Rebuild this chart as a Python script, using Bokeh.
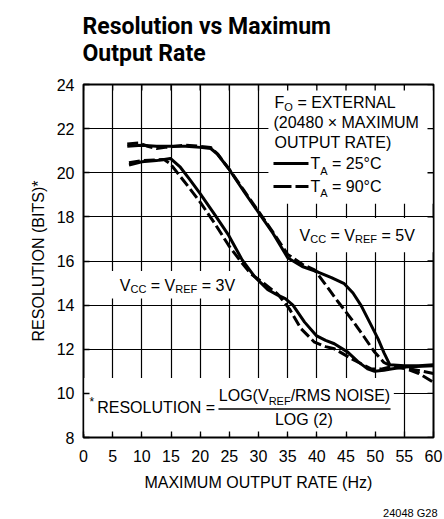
import math
from bokeh.plotting import figure
from bokeh.models import Range1d, FixedTicker, BoxAnnotation, Label, Arrow, Title
from bokeh.embed import file_html
from bokeh.resources import INLINE

FONT = "Liberation Sans"
TITLE_FONT = "Roboto"

# ---------------- data ----------------
x_ticks = [0, 5, 10, 15, 20, 25, 30, 35, 40, 45, 50, 55, 60]
y_ticks = [8, 10, 12, 14, 16, 18, 20, 22, 24]

# VCC = VREF = 5V, TA = 25C (solid)
x_5v_25 = [7.5, 10, 12.5, 15, 17.5, 20, 21.8, 22.9, 24.9, 27.5, 30, 32.5, 35, 37.5, 40.2,
           42.5, 44.7, 46.2, 47.6, 49, 50.5, 51.5, 52.5, 55, 57.5, 60]
y_5v_25 = [21.2, 21.25, 21.2, 21.2, 21.2, 21.15, 21.1, 20.86, 20.18, 19.15, 18.2, 17.25, 16.15,
           15.75, 15.5, 15.25, 14.97, 14.55, 13.98, 13.25, 12.47, 11.85, 11.3, 11.25, 11.25, 11.3]
# VCC = VREF = 5V, TA = 90C (dashed)
x_5v_90 = [7.5, 9.5, 11, 12.5, 14, 17.5, 20, 21.8, 23, 25, 27.5, 30, 32.5, 35, 37.5, 39.6,
           41.3, 43.5, 45.9, 48, 49.9, 51.5, 52.7, 55, 57.5, 60]
y_5v_90 = [21.3, 21.35, 21.2, 21.1, 21.15, 21.25, 21.2, 21.15, 20.85, 20.15, 19.2, 18.25, 17.3,
           16.3, 15.85, 15.6, 15.0, 14.2, 13.38, 12.6, 11.87, 11.4, 11.25, 11.15, 10.9, 10.5]
# VCC = VREF = 3V, TA = 25C (solid)
x_3v_25 = [7.8, 10, 12.5, 14.9, 16.6, 18.2, 20, 22.5, 24.9, 27.2, 29.3, 31.6, 33.3, 34.6, 35.9,
           37.9, 39.9, 41.5, 43.0, 45.3, 47, 48.7, 49.9, 51.5, 52.7, 55, 60]
y_3v_25 = [20.35, 20.5, 20.55, 20.65, 20.25, 19.7, 19.05, 18.1, 17.16, 16.05, 15.3, 14.7, 14.45,
           14.3, 14.0, 13.23, 12.62, 12.4, 12.25, 11.87, 11.45, 11.11, 11.0, 11.05, 11.1, 11.2, 11.25]
# VCC = VREF = 3V, TA = 90C (dashed)
x_3v_90 = [7.8, 10, 12.5, 13.8, 14.9, 16.5, 18, 20, 22.5, 24.9, 26.9, 28.7, 31, 33.3, 35.3,
           37.3, 39.6, 41.5, 43, 46.5, 49.3, 51, 52.7, 56.2, 60]
y_3v_90 = [20.45, 20.55, 20.58, 20.6, 20.4, 19.86, 19.36, 18.67, 17.7, 16.7, 16.0, 15.42, 14.97,
           14.5, 13.83, 12.93, 12.32, 12.12, 12.02, 11.49, 11.11, 11.1, 11.2, 11.1, 10.9]

# ---------------- figure ----------------
p = figure(frame_width=350, frame_height=353,
           min_border_left=83, min_border_right=11, min_border_top=84, min_border_bottom=82,
           x_range=Range1d(0, 60), y_range=Range1d(8, 24),
           output_backend="svg", toolbar_location=None,
           x_axis_label="MAXIMUM OUTPUT RATE (Hz)", y_axis_label="RESOLUTION (BITS)*")
p.background_fill_color = "white"
p.border_fill_color = "white"
p.outline_line_color = "black"
p.outline_line_width = 2

p.xaxis.ticker = FixedTicker(ticks=x_ticks)
p.yaxis.ticker = FixedTicker(ticks=y_ticks)
for ax in (p.xaxis[0], p.yaxis[0]):
    ax.axis_line_color = None
    ax.major_tick_in = 6
    ax.major_tick_out = 0
    ax.major_tick_line_width = 1.3
    ax.major_tick_line_color = "black"
    ax.minor_tick_line_color = None
    ax.major_label_text_font = FONT
    ax.major_label_text_font_size = "16px"
    ax.major_label_text_color = "black"
    ax.axis_label_text_font = FONT
    ax.axis_label_text_font_size = "16px"
    ax.axis_label_text_font_style = "normal"
    ax.axis_label_text_color = "black"
p.xaxis.major_label_standoff = 12
p.xaxis.axis_label_standoff = 9
p.yaxis.major_label_standoff = 9
p.yaxis.axis_label_standoff = 7

p.grid.grid_line_color = "black"
p.grid.grid_line_width = 1.2
p.grid.grid_line_alpha = 1


def make_title(text, pad, **kw):
    try:
        return Title(text=text, padding=pad, **kw)
    except Exception:
        return Title(text=text, **kw)


# title (two lines), lifted off the frame by bottom padding
p.add_layout(make_title("Resolution vs Maximum\nOutput Rate",
                        dict(top=0, right=0, bottom=17, left=0),
                        text_font=TITLE_FONT, text_font_size="23px", text_font_style="bold",
                        text_color="black", text_line_height=1.02, align="left",
                        offset=-1, standoff=0), "above")
# figure code below the x-axis label
p.add_layout(make_title("24048 G28", dict(top=11, right=0, bottom=0, left=0),
                        text_font=FONT, text_font_size="11px", text_font_style="normal",
                        text_color="black", align="right", offset=-4, standoff=0), "below")

# white boxes that interrupt the grid behind the texts
for l, r, b, t in ((31.7, 59.85, 18.6, 23.93),    # legend
                   (35.5, 59.85, 16.4, 17.95),    # 5V label
                   (4.5, 27.6, 14.3, 15.55),      # 3V label
                   (0.15, 53.2, 8.15, 10.7)):     # formula
    p.add_layout(BoxAnnotation(left=l, right=r, bottom=b, top=t, fill_color="white",
                               fill_alpha=1, line_color=None, level="underlay"))

# inward ticks on the top and right edges
p.ray(x=x_ticks, y=[24] * len(x_ticks), length=6, length_units="screen",
      angle=-math.pi / 2, line_color="black", line_width=1.3)
p.ray(x=[60] * len(y_ticks), y=y_ticks, length=6, length_units="screen",
      angle=math.pi, line_color="black", line_width=1.3)

# curves
p.line(x_5v_25, y_5v_25, line_color="black", line_width=3, line_join="round")
p.line(x_5v_90, y_5v_90, line_color="black", line_width=3, line_dash="11 4")
p.line(x_3v_25, y_3v_25, line_color="black", line_width=3, line_join="round")
p.line(x_3v_90, y_3v_90, line_color="black", line_width=3, line_dash="11 4")


def txt(x, y, s, size=16, dx=0, align="left"):
    p.add_layout(Label(x=x, y=y, x_offset=dx, text=s, text_font=FONT,
                       text_font_size=f"{size}px", text_color="black",
                       text_align=align, text_baseline="middle"))


# legend block
txt(32.74, 23.19, "F")
txt(32.74, 23.0, "O", size=11, dx=9.8)
txt(32.74, 23.19, "= EXTERNAL", dx=22.9)
txt(32.57, 22.28, "(20480 \u00d7 MAXIMUM")
txt(32.74, 21.37, "OUTPUT RATE)")
p.add_layout(Arrow(end=None, x_start=32.57, y_start=20.42, x_end=38.57, y_end=20.42,
                   line_width=3, line_color="black"))
txt(38.92, 20.42, "T")
txt(38.92, 20.1, "A", size=11, dx=9.8)
txt(38.92, 20.42, "= 25\u00b0C", dx=21.5)
p.add_layout(Arrow(end=None, x_start=32.57, y_start=19.38, x_end=38.57, y_end=19.38,
                   line_width=3, line_color="black", line_dash="18 4"))
txt(38.92, 19.38, "T")
txt(38.92, 19.06, "A", size=11, dx=9.8)
txt(38.92, 19.38, "= 90\u00b0C", dx=21.5)

# 5V label
txt(37.03, 17.16, "V")
txt(37.03, 16.98, "CC", size=11, dx=10.7)
txt(37.03, 17.16, "= V", dx=31.0)
txt(37.03, 16.98, "REF", size=11, dx=55.5)
txt(37.03, 17.16, "= 5V", dx=82.0)

# 3V label
txt(6.22, 14.89, "V")
txt(6.22, 14.71, "CC", size=11, dx=10.7)
txt(6.22, 14.89, "= V", dx=31.0)
txt(6.22, 14.71, "REF", size=11, dx=55.5)
txt(6.22, 14.89, "= 3V", dx=82.0)

# formula
txt(1.03, 9.62, "*", size=12)
txt(1.03, 9.37, "RESOLUTION =", dx=7.7)
txt(23.2, 9.90, "LOG(V")
txt(23.2, 9.66, "REF", size=11, dx=49.8)
txt(23.2, 9.90, "/RMS NOISE)", dx=71.8)
p.add_layout(Arrow(end=None, x_start=23.14, y_start=9.29, x_end=52.63, y_end=9.29,
                   line_width=1.5, line_color="black"))
txt(37.77, 8.82, "LOG (2)", align="center")

open("out.html", "w").write(file_html(p, INLINE))
